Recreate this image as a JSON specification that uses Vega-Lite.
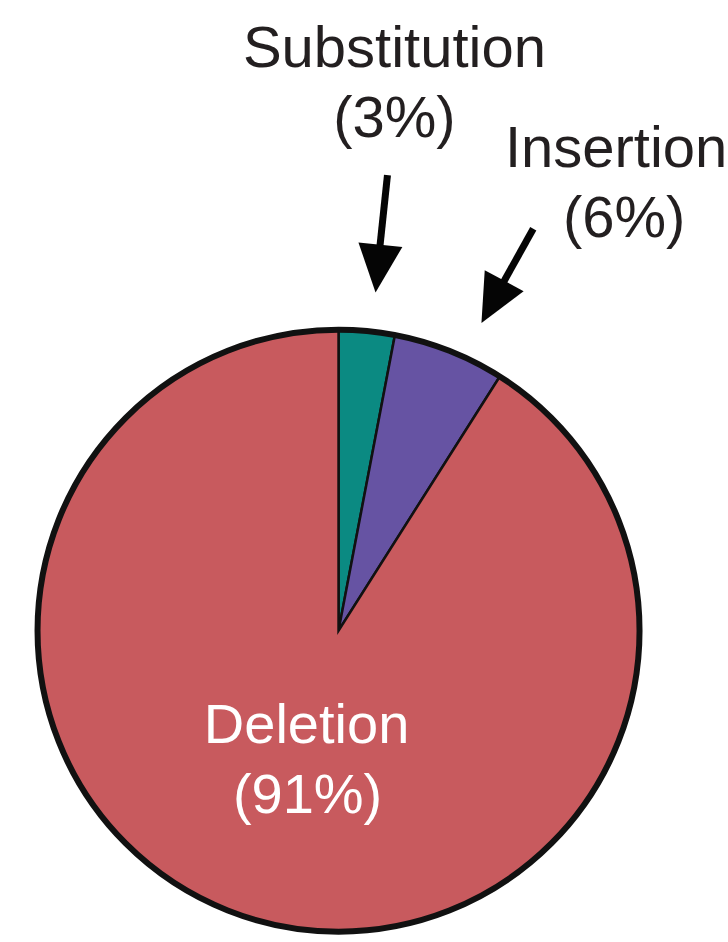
{
  "$schema": "https://vega.github.io/schema/vega-lite/v6.json",
  "width": 728,
  "height": 942,
  "autosize": {"type": "fit", "contains": "padding"},
  "padding": 0,
  "background": "white",
  "config": {"view": {"stroke": null}},
  "datasets": {
    "slices": [
      {"type": "Substitution", "pct": 3, "order": 1, "cx": 339, "cy": 634},
      {"type": "Insertion", "pct": 6, "order": 2, "cx": 339, "cy": 634},
      {"type": "Deletion", "pct": 91, "order": 3, "cx": 339, "cy": 634}
    ],
    "darkLabels": [
      {"text": "Substitution", "x": 395, "y": 67},
      {"text": "(3%)", "x": 395, "y": 138},
      {"text": "Insertion", "x": 617, "y": 168},
      {"text": "(6%)", "x": 625, "y": 238}
    ],
    "lightLabels": [
      {"text": "Deletion", "x": 307, "y": 747},
      {"text": "(91%)", "x": 308, "y": 817}
    ],
    "shafts": [
      {"x": 388, "y": 176, "x2": 380, "y2": 252},
      {"x": 534, "y": 230, "x2": 504, "y2": 284}
    ],
    "head1": [{"x": 378.5, "y": 270}],
    "head2": [{"x": 493.5, "y": 303.5}]
  },
  "encoding": {
    "x": {"type": "quantitative", "scale": {"domain": [0, 728], "nice": false, "zero": false}, "axis": null},
    "y": {"type": "quantitative", "scale": {"domain": [0, 942], "nice": false, "zero": false, "reverse": true}, "axis": null}
  },
  "layer": [
    {
      "data": {"name": "slices"},
      "mark": {"type": "arc", "radius": 301, "stroke": "#111111", "strokeWidth": 2.5},
      "encoding": {
        "x": {"field": "cx", "type": "quantitative"},
        "y": {"field": "cy", "type": "quantitative"},
        "theta": {"field": "pct", "type": "quantitative", "stack": true},
        "order": {"field": "order", "type": "quantitative"},
        "color": {
          "field": "type",
          "type": "nominal",
          "scale": {"domain": ["Substitution", "Insertion", "Deletion"], "range": ["#0b8a82", "#6653a3", "#c85a5e"]},
          "legend": null
        }
      }
    },
    {
      "data": {"values": [{"cx": 339, "cy": 634}]},
      "mark": {"type": "point", "shape": "circle", "filled": false, "size": 362404, "stroke": "#111111", "strokeWidth": 6, "opacity": 1},
      "encoding": {
        "x": {"field": "cx", "type": "quantitative"},
        "y": {"field": "cy", "type": "quantitative"}
      }
    },
    {
      "data": {"name": "shafts"},
      "mark": {"type": "rule", "color": "#050505", "strokeWidth": 7, "strokeCap": "butt"},
      "encoding": {
        "x": {"field": "x", "type": "quantitative"},
        "y": {"field": "y", "type": "quantitative"},
        "x2": {"field": "x2"},
        "y2": {"field": "y2"}
      }
    },
    {
      "data": {"name": "head1"},
      "mark": {"type": "point", "shape": "M-0.92,-1L0.92,-1L0,1Z", "size": 2304, "filled": true, "color": "#050505", "opacity": 1, "angle": 5.8},
      "encoding": {
        "x": {"field": "x", "type": "quantitative"},
        "y": {"field": "y", "type": "quantitative"}
      }
    },
    {
      "data": {"name": "head2"},
      "mark": {"type": "point", "shape": "M-0.92,-1L0.92,-1L0,1Z", "size": 2304, "filled": true, "color": "#050505", "opacity": 1, "angle": 28.2},
      "encoding": {
        "x": {"field": "x", "type": "quantitative"},
        "y": {"field": "y", "type": "quantitative"}
      }
    },
    {
      "data": {"name": "darkLabels"},
      "mark": {"type": "text", "font": "Liberation Sans", "fontSize": 58, "color": "#231f20", "align": "center", "baseline": "alphabetic"},
      "encoding": {
        "x": {"field": "x", "type": "quantitative"},
        "y": {"field": "y", "type": "quantitative"},
        "text": {"field": "text"}
      }
    },
    {
      "data": {"name": "lightLabels"},
      "mark": {"type": "text", "font": "Liberation Sans", "fontSize": 56, "color": "#ffffff", "align": "center", "baseline": "alphabetic"},
      "encoding": {
        "x": {"field": "x", "type": "quantitative"},
        "y": {"field": "y", "type": "quantitative"},
        "text": {"field": "text"}
      }
    }
  ]
}
